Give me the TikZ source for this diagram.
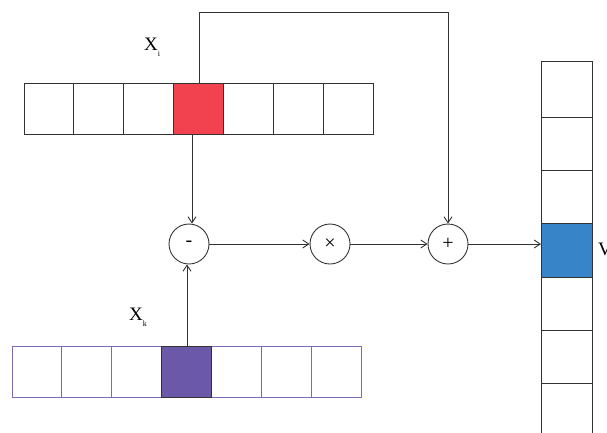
\documentclass[tikz,border=0pt]{standalone}
\usepackage{fontspec}
\setmainfont{Liberation Serif}
\usetikzlibrary{arrows.meta}
\definecolor{cred}{HTML}{F2414F}
\definecolor{cblue}{HTML}{3784C8}
\definecolor{cpurple}{HTML}{6B58A8}
\definecolor{cpline}{HTML}{7D6BBA}
\definecolor{cline}{HTML}{333333}
\begin{document}
\begin{tikzpicture}[x=1pt,y=-1pt,
  cell/.style={draw=cline,line width=1pt,minimum width=49.9pt,minimum height=51pt,inner sep=0,outer sep=0},
  pcell/.style={draw=cpline,line width=1pt,minimum width=49.9pt,minimum height=51pt,inner sep=0,outer sep=0},
  vcell/.style={draw=cline,line width=1pt,minimum width=51pt,minimum height=53.3pt,inner sep=0,outer sep=0},
  op/.style={circle,draw=cline,line width=0.9pt,minimum size=40pt,inner sep=0,font=\fontsize{20}{20}\selectfont},
  arr/.style={draw=cline,line width=0.9pt,-{Straight Barb[length=6pt,width=8pt]}},
  lbl/.style={font=\fontsize{19}{19}\selectfont,inner sep=0}]
\useasboundingbox (0,0) rectangle (607,432);
% top row
\foreach \i in {0,...,6}{
  \node[cell] (t\i) at ({24+24.95+49.9*\i},108.5) {};
}
\node[cell,fill=cred] (t3) at ({24+24.95+49.9*3},108.5) {};
% bottom row
\foreach \i in {0,...,6}{
  \node[pcell] (b\i) at ({12+24.95+49.9*\i},371.5) {};
}
\node[cell,fill=cpurple] (b3) at ({12+24.95+49.9*3},371.5) {};
% vertical column
\node[vcell,minimum height=56.3pt] (v0) at (566.5,89.15) {};
\foreach \i in {1,...,6}{
  \node[vcell] (v\i) at (566.5,{64+26.65+53.3*\i}) {};
}
\node[vcell,fill=cblue] (v3) at (566.5,{64+26.65+53.3*3}) {};
% operators
\node[op] (m) at (189,244) {-};
\node[op] (x) at (330,244) {×};
\node[op] (p) at (448,244) {+};
% labels
\node[lbl] (xi) at (152,47) {X\raisebox{-0.7ex}{\fontsize{8}{8}\selectfont i}};
\node[lbl] (xk) at (138,317) {X\raisebox{-0.7ex}{\fontsize{8}{8}\selectfont k}};
\node[lbl,anchor=west] (vl) at (598,249) {V};
% connectors
\coordinate (c1) at (199,12);
\coordinate (c2) at (448,12);
\draw[arr] (t3.south -| m.north) ++(3,0) coordinate (s1) -- (s1 |- m.north);
\draw[arr] (b3.north -| m.south) ++(-2,0) coordinate (s2) -- (s2 |- m.south);
\draw[arr] (m) -- (x);
\draw[arr] (x) -- (p);
\draw[arr] (p) -- (p -| v3.west);
\draw[arr] (t3.north -| c1) -- (c1) -- (c2) -- (p.north);
\end{tikzpicture}
\end{document}
